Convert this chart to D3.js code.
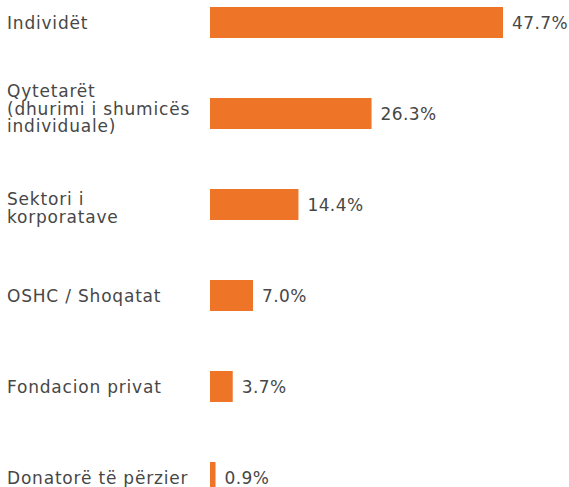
<!DOCTYPE html>
<html>
<head>
<meta charset="utf-8">
<script src="https://cdn.jsdelivr.net/npm/d3@7"></script>
<style>
  body { margin: 0; background: #fff; }
  text { fill: #474747; font-family: "DejaVu Sans", sans-serif; font-size: 17px; }
  .cat { letter-spacing: 0.8px; }
  .value { letter-spacing: 0.4px; }
</style>
</head>
<body>
<div id="chart"></div>
<script>
const width = 569;
const height = 487;

// categories (line breaks as in the original labels)
const categories = [
  'Individët',
  'Qytetarët\n(dhurimi i shumicës\nindividuale)',
  'Sektori i\nkorporatave',
  'OSHC / Shoqatat',
  'Fondacion privat',
  'Donatorë të përzier'
];
const values = [47.7, 26.3, 14.4, 7.0, 3.7, 0.9];

const data = categories.map((c, i) => ({ label: c, value: values[i] }));

const barLeft = 210;
const labelLeft = 7;
const lineHeight = 17.5;
// baseline of the first label line relative to the bar centre, by line count
const firstLineShift = { 1: 6.5, 2: 0.5, 3: -16.5 };

const svg = d3.select('#chart')
  .append('svg')
  .attr('width', width)
  .attr('height', height);

const x = d3.scaleLinear()
  .domain([0, 47.7])
  .range([barLeft, 503]);

const y = d3.scaleBand()
  .domain(categories)
  .range([-53, 553])
  .paddingInner(60 / 91)
  .paddingOuter(60 / 91);

/* Bars */
svg.selectAll('rect.bar')
  .data(data)
  .enter()
  .append('rect')
  .attr('class', 'bar')
  .attr('x', x(0))
  .attr('y', d => y(d.label))
  .attr('width', d => x(d.value) - x(0))
  .attr('height', y.bandwidth())
  .style('fill', '#ee7428');

/* Value labels */
svg.selectAll('text.value')
  .data(data)
  .enter()
  .append('text')
  .attr('class', 'value')
  .attr('x', d => x(d.value) + 9)
  .attr('y', d => y(d.label) + y.bandwidth() / 2 + 6.5)
  .text(d => d.value.toFixed(1) + '%');

/* Category labels */
svg.selectAll('text.cat')
  .data(data)
  .enter()
  .append('text')
  .attr('class', 'cat')
  .each(function (d) {
    const lines = d.label.split('\n');
    const y0 = y(d.label) + y.bandwidth() / 2 + firstLineShift[lines.length];
    d3.select(this).selectAll('tspan')
      .data(lines)
      .enter()
      .append('tspan')
      .attr('x', labelLeft)
      .attr('y', (l, i) => y0 + i * lineHeight)
      .text(l => l);
  });
</script>
</body>
</html>
